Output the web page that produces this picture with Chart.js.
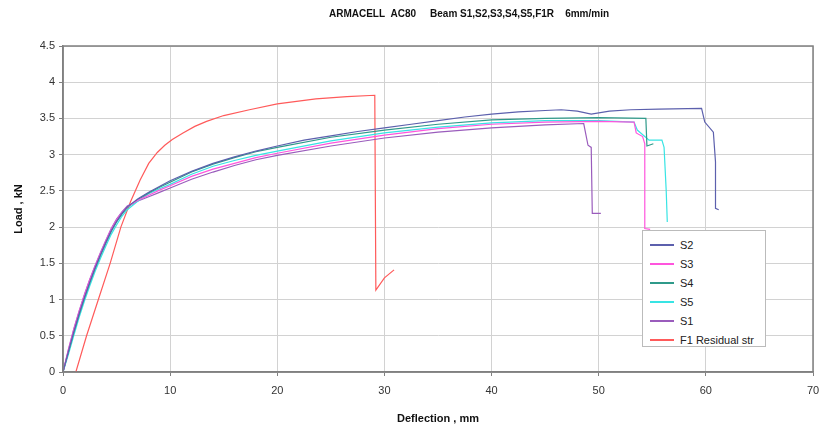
<!DOCTYPE html>
<html>
<head>
<meta charset="utf-8">
<script src="https://cdn.jsdelivr.net/npm/chart.js@4.4.1/dist/chart.umd.min.js"></script>
<style>
  body { margin: 0; background: #fff; }
  #wrap { position: relative; width: 821px; height: 430px; }
  #legend {
    position: absolute; left: 642px; top: 230px; width: 124px; height: 117px;
    background: #fff; border: 1px solid #bbb; box-sizing: border-box;
    font-family: "Liberation Sans", Arial, sans-serif; font-size: 11px; color: #222;
    padding-top: 4px;
  }
  #legend .item { height: 19px; display: flex; align-items: center; }
  #legend .sw { width: 24px; height: 2px; margin-left: 7px; margin-right: 6px; }
</style>
</head>
<body>
<div id="wrap">
  <canvas id="chart" width="821" height="430"></canvas>
  <div id="legend"></div>
</div>
<script>
// Datos (deflexión en mm, carga en kN)
const s2X = [0, 0.5, 1, 1.5, 2, 2.5, 3, 3.5, 4, 4.5, 5, 5.5, 6, 7, 8, 9, 10, 12, 14, 16, 18, 20, 22.5, 25, 27.5, 30, 32.5, 35, 37.5, 40, 42.5, 45, 46.5, 48, 49.3, 51, 53, 55.6, 59.6, 59.9, 60.7, 60.9, 60.9, 61.2];
const s2Y = [0, 0.28, 0.55, 0.8, 1.03, 1.24, 1.44, 1.62, 1.79, 1.95, 2.08, 2.19, 2.28, 2.39, 2.48, 2.56, 2.64, 2.77, 2.88, 2.97, 3.05, 3.12, 3.2, 3.26, 3.32, 3.37, 3.42, 3.47, 3.52, 3.56, 3.59, 3.61, 3.62, 3.6, 3.56, 3.6, 3.62, 3.63, 3.64, 3.45, 3.31, 2.9, 2.26, 2.24];

const s3X = [0, 0.5, 1, 1.5, 2, 2.5, 3, 3.5, 4, 4.5, 5, 5.5, 6, 7, 8, 9, 10, 12, 14, 16, 18, 20, 25, 30, 35, 40, 45, 50, 53.3, 53.5, 54.1, 54.3, 54.3, 54.8];
const s3Y = [0, 0.3, 0.58, 0.83, 1.06, 1.27, 1.46, 1.64, 1.81, 1.97, 2.1, 2.2, 2.28, 2.37, 2.44, 2.51, 2.57, 2.7, 2.8, 2.88, 2.96, 3.02, 3.16, 3.27, 3.36, 3.42, 3.45, 3.46, 3.45, 3.3, 3.25, 3.15, 1.98, 1.97];

const s4X = [0, 0.5, 1, 1.5, 2, 2.5, 3, 3.5, 4, 4.5, 5, 5.5, 6, 7, 8, 9, 10, 12, 14, 16, 18, 20, 25, 30, 35, 40, 45, 50, 54.4, 54.5, 55.1];
const s4Y = [0, 0.27, 0.54, 0.79, 1.02, 1.23, 1.43, 1.61, 1.78, 1.94, 2.07, 2.18, 2.27, 2.38, 2.47, 2.55, 2.62, 2.76, 2.87, 2.96, 3.04, 3.1, 3.24, 3.34, 3.42, 3.48, 3.5, 3.51, 3.5, 3.12, 3.15];

const s5X = [0, 0.5, 1, 1.5, 2, 2.5, 3, 3.5, 4, 4.5, 5, 5.5, 6, 7, 8, 9, 10, 12, 14, 16, 18, 20, 25, 30, 35, 40, 45, 50, 53.3, 53.6, 54.7, 55.9, 56.1, 56.3, 56.4];
const s5Y = [0, 0.24, 0.5, 0.75, 0.98, 1.19, 1.39, 1.57, 1.74, 1.9, 2.03, 2.15, 2.24, 2.36, 2.46, 2.53, 2.59, 2.73, 2.84, 2.92, 2.99, 3.05, 3.19, 3.3, 3.38, 3.44, 3.47, 3.47, 3.45, 3.34, 3.2, 3.2, 3.1, 2.5, 2.07];

const s1X = [0, 0.5, 1, 1.5, 2, 2.5, 3, 3.5, 4, 4.5, 5, 5.5, 6, 7, 8, 9, 10, 12, 14, 16, 18, 20, 25, 30, 35, 40, 45, 48.6, 49, 49.3, 49.4, 50.2];
const s1Y = [0, 0.31, 0.59, 0.84, 1.07, 1.28, 1.47, 1.65, 1.82, 1.98, 2.11, 2.21, 2.29, 2.36, 2.42, 2.48, 2.54, 2.66, 2.76, 2.85, 2.93, 2.99, 3.12, 3.23, 3.31, 3.37, 3.41, 3.43, 3.13, 3.1, 2.19, 2.19];

const f1X = [1.2, 2.2, 3.3, 4.4, 5.4, 6.3, 7.2, 8.0, 8.8, 9.5, 10.2, 11.2, 12.3, 13.4, 15, 17.4, 20, 23.6, 26.5, 29.1, 29.2, 30, 30.9];
const f1Y = [0, 0.5, 1, 1.5, 2, 2.35, 2.65, 2.88, 3.03, 3.13, 3.21, 3.3, 3.39, 3.46, 3.54, 3.62, 3.7, 3.77, 3.8, 3.82, 1.13, 1.3, 1.41];

const seriesNames = ['S2', 'S3', 'S4', 'S5', 'S1', 'F1 Residual str'];
const seriesColors = ['#5c60ad', '#ff55dd', '#2f9a8a', '#38e4e4', '#9a5cbc', '#ff5a5a'];
const xTicks = [0, 10, 20, 30, 40, 50, 60, 70];
const yTicks = [0, 0.5, 1, 1.5, 2, 2.5, 3, 3.5, 4, 4.5];

const seriesX = [s2X, s3X, s4X, s5X, s1X, f1X];
const seriesY = [s2Y, s3Y, s4Y, s5Y, s1Y, f1Y];

const fuente = '"Liberation Sans", Arial, sans-serif';

const datasets = seriesNames.map((nombre, i) => ({
    label: nombre,
    data: seriesX[i].map((x, j) => ({ x: x, y: seriesY[i][j] })),
    borderColor: seriesColors[i],
    backgroundColor: seriesColors[i],
    borderWidth: 1.2,
    showLine: true,
    pointRadius: 0,
    tension: 0
}));

// Título y marco del área del gráfico
const marcoPlugin = {
    id: 'marco',
    afterDraw(chart) {
        const { ctx, chartArea: a } = chart;
        ctx.save();
        ctx.strokeStyle = '#808080';
        ctx.lineWidth = 1.5;
        ctx.strokeRect(a.left, a.top, a.right - a.left, a.bottom - a.top);
        ctx.fillStyle = '#111';
        ctx.font = 'bold 10px ' + fuente;
        ctx.textAlign = 'center';
        ctx.textBaseline = 'middle';
        ctx.fillText('ARMACELL  AC80     Beam S1,S2,S3,S4,S5,F1R    6mm/min', 469, 14);
        ctx.restore();
    }
};

const chart = new Chart(document.getElementById('chart'), {
    type: 'scatter',
    data: { datasets: datasets },
    plugins: [marcoPlugin],
    options: {
        responsive: false,
        animation: false,
        layout: { padding: { left: 0, top: 46, right: 8, bottom: 0 } },
        plugins: {
            legend: { display: false },
            tooltip: { enabled: false }
        },
        scales: {
            x: {
                type: 'linear',
                min: 0,
                max: 70,
                afterBuildTicks: s => { s.ticks = xTicks.map(v => ({ value: v })); },
                afterFit: s => { s.height = 58; s.paddingLeft = 0; s.paddingRight = 0; },
                grid: { color: '#d2d2d2', lineWidth: 1, drawTicks: true, tickLength: 4, tickColor: '#808080' },
                border: { color: '#808080', width: 1.5 },
                ticks: { color: '#333', font: { family: fuente, size: 11 }, padding: 8, maxRotation: 0,
                    callback: v => String(v) },
                title: { display: true, text: 'Deflection , mm', color: '#111',
                    font: { family: fuente, size: 11, weight: 'bold' }, padding: { top: 4 } }
            },
            y: {
                min: 0,
                max: 4.5,
                afterBuildTicks: s => { s.ticks = yTicks.map(v => ({ value: v })); },
                afterFit: s => { s.width = 63; s.paddingTop = 0; s.paddingBottom = 0; },
                grid: { color: '#d2d2d2', lineWidth: 1, drawTicks: true, tickLength: 4, tickColor: '#808080' },
                border: { color: '#808080', width: 1.5 },
                ticks: { color: '#333', font: { family: fuente, size: 11 }, padding: 4,
                    callback: v => String(v) },
                title: { display: true, text: 'Load , kN', color: '#111',
                    font: { family: fuente, size: 11, weight: 'bold' }, padding: { top: 12, bottom: 0 } }
            }
        }
    }
});

// Leyenda HTML dentro del área del gráfico
document.getElementById('legend').innerHTML = chart.data.datasets.map(d => `
    <div class="item"><span class="sw" style="background:${d.borderColor}"></span>${d.label}</div>
`).join('');
</script>
</body>
</html>
